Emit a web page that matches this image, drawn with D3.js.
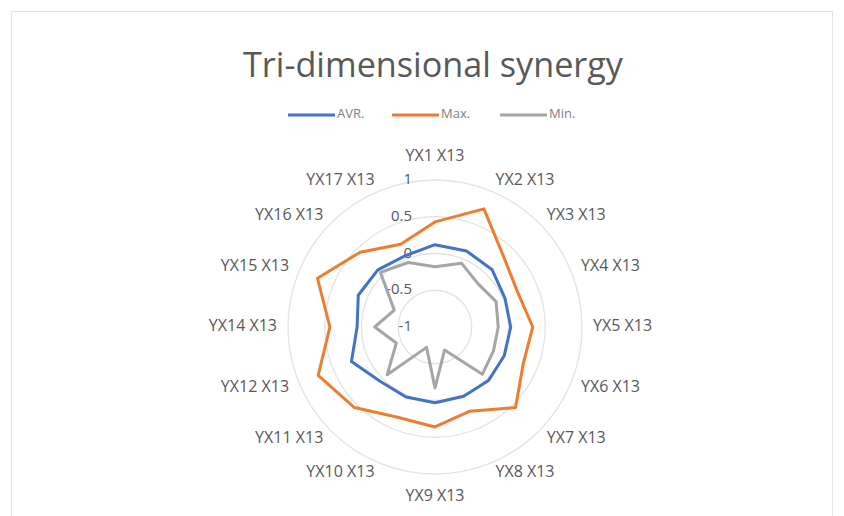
<!DOCTYPE html>
<html><head><meta charset="utf-8">
<script src="https://cdn.jsdelivr.net/npm/d3@7"></script>
<style>body{margin:0;background:#fff}svg{display:block}</style>
</head><body>
<svg id="c" width="844" height="516"></svg>
<script>
const categories = ["YX1 X13","YX2 X13","YX3 X13","YX4 X13","YX5 X13","YX6 X13","YX7 X13","YX8 X13","YX9 X13","YX10 X13","YX11 X13","YX12 X13","YX14 X13","YX15 X13","YX16 X13","YX17 X13"];
const avrValues = [0.12,0.12,0.10,0.03,0.03,0.02,0.03,0.02,0.03,0.03,0.05,0.23,0.06,0.13,0.10,0.05];
const maxValues = [0.43,0.74,0.33,0.22,0.33,0.30,0.55,0.24,0.36,0.33,0.55,0.72,0.43,0.73,0.44,0.22];
const minValues = [-0.18,-0.06,-0.17,-0.10,-0.14,-0.14,-0.09,-0.66,-0.17,-0.70,-0.08,-0.43,-0.18,-0.40,0.05,-0.05];
const tickValues = [-1,-0.5,0,0.5,1];
const tickLabels = ["-1","-0.5","0","0.5","1"];
const seriesNames = ["AVR.","Max.","Min."];
const seriesColors = ["#4472C4","#ED7D31","#A5A5A5"];

const svg = d3.select("#c");
const cx = 435, cy = 327, R = 147;
const font = "'Open Sans', 'Noto Sans', sans-serif";

svg.append("rect").attr("x",11.5).attr("y",11.5).attr("width",821).attr("height",510)
  .attr("fill","none").attr("stroke","#e4e4e4").attr("stroke-width",1);

svg.append("text").attr("x",433).attr("y",77).attr("text-anchor","middle")
  .attr("font-family",font).attr("font-size",35).attr("fill","#595959")
  .attr("textLength",380).attr("lengthAdjust","spacingAndGlyphs")
  .text("Tri-dimensional synergy");

// legend
const legX = [288, 392, 500];
const legend = svg.append("g");
seriesNames.forEach((n,i)=>{
  legend.append("line").attr("x1",legX[i]).attr("x2",legX[i]+47).attr("y1",115).attr("y2",115)
    .attr("stroke",seriesColors[i]).attr("stroke-width",3);
  legend.append("text").attr("x",legX[i]+49).attr("y",115).attr("dominant-baseline","middle")
    .attr("font-family",font).attr("font-size",13).attr("fill","#7f7f7f").text(n);
});

const r = d3.scaleLinear().domain([-1,1]).range([0,R]);
const angle = d3.scalePoint().domain(categories).range([0, 2*Math.PI*(categories.length)/categories.length]).padding(0);
const ang = i => i*2*Math.PI/categories.length;

const g = svg.append("g").attr("transform",`translate(${cx},${cy})`);

// grid rings
g.selectAll("circle.grid").data(tickValues.filter(v=>v>-1)).enter().append("circle")
  .attr("r",d=>r(d)).attr("fill","none").attr("stroke","#e3e3e3").attr("stroke-width",1.3);

// tick labels
g.selectAll("text.tick").data(tickValues).enter().append("text")
  .attr("x",-23).attr("y",d=>-r(d)).attr("text-anchor","end").attr("dominant-baseline","middle")
  .attr("font-family",font).attr("font-size",15).attr("fill","#595959")
  .text((d,i)=>tickLabels[i]);

// category labels
const LR = 158;
g.selectAll("text.cat").data(categories).enter().append("text")
  .attr("x",(d,i)=>LR*Math.sin(ang(i)))
  .attr("y",(d,i)=>{const c=Math.cos(ang(i)); return -LR*c - (Math.abs(c)>0.95? 12*Math.sign(c):0);})
  .attr("text-anchor",(d,i)=>{const s=Math.sin(ang(i)); return s>0.1?"start":(s<-0.1?"end":"middle");})
  .attr("dominant-baseline","middle")
  .attr("font-family",font).attr("font-size",16).attr("fill","#595959")
  .text(d=>d);

const line = d3.lineRadial().angle((d,i)=>ang(i)).radius(d=>r(d)).curve(d3.curveLinearClosed);
[avrValues,maxValues,minValues].forEach((vals,k)=>{
  g.append("path").attr("d",line(vals)).attr("fill","none")
    .attr("stroke",seriesColors[k]).attr("stroke-width",3).attr("stroke-linejoin","round");
});
</script>
</body></html>
